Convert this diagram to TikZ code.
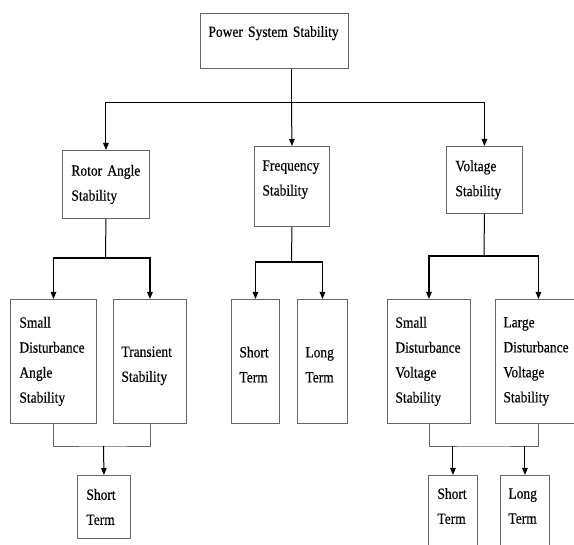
\documentclass[tikz,border=0pt]{standalone}
\usepackage{fontspec}
\setmainfont{Liberation Serif}[FakeStretch=0.87, FakeBold=0.4, WordSpace=0.7]
\usepackage{tikz}
\usetikzlibrary{arrows.meta}
\usepackage{xcolor}
\newcommand{\boxfont}{\fontsize{15.5}{25}\selectfont}
\tikzset{
  stabbox/.style={draw=black!60, line width=0.9pt, anchor=north west, align=left, inner ysep=0pt, font=\boxfont},
  link/.style={line width=1pt, black},
  arrowlink/.style={link, -{Triangle[width=5.5pt,length=7pt]}},
  buslink/.style={arrowlink, line width=1.3pt},
  joinlink/.style={line width=0.9pt, black!60},
}

\begin{document}
\begin{tikzpicture}[x=1pt,y=-1pt]
\useasboundingbox (0,0) rectangle (574,545);
\fill[white] (0,0) rectangle (574,545);
% boxes
\node[stabbox, inner xsep=8pt, text width=132pt, minimum height=55pt, text depth=19pt] (pss) at (200,13) {\mbox{Power System Stability}};
\node[stabbox, inner xsep=9pt, text width=69pt, minimum height=68pt] (rotor) at (62,150) {\mbox{Rotor Angle}\\Stability};
\node[stabbox, inner xsep=8pt, text width=59pt, minimum height=80pt, text depth=42pt] (freq) at (254,146) {Frequency\\Stability};
\node[stabbox, inner xsep=9pt, text width=58pt, minimum height=67pt] (volt) at (446,146) {Voltage\\Stability};
\node[stabbox, inner xsep=9pt, text width=68pt, minimum height=124pt] (sdas) at (10,299) {Small\\Disturbance\\Angle\\Stability};
\node[stabbox, inner xsep=8pt, text width=57pt, minimum height=124pt, text height=19pt] (trans) at (113,299) {Transient\\Stability};
\node[stabbox, inner xsep=8pt, text width=32pt, minimum height=124pt, text height=17pt] (fshort) at (231,299) {Short\\Term};
\node[stabbox, inner xsep=8pt, text width=34pt, minimum height=124pt, text height=17pt] (flong) at (297,299) {Long\\Term};
\node[stabbox, inner xsep=8pt, text width=67pt, minimum height=124pt] (sdvs) at (387,299) {Small\\Disturbance\\Voltage\\Stability};
\node[stabbox, inner xsep=8pt, text width=70pt, minimum height=124pt] (ldvs) at (495,299) {Large\\Disturbance\\Voltage\\Stability};
\node[stabbox, inner xsep=9pt, text width=35pt, minimum height=63pt] (rshort) at (77,475) {Short\\Term};
\node[stabbox, inner xsep=9pt, text width=31pt, minimum height=80pt, text depth=44pt] (vshort) at (428,475) {Short\\Term};
\node[stabbox, inner xsep=8pt, text width=33pt, minimum height=80pt, text depth=44pt] (vlong) at (500,475) {Long\\Term};
% junctions
\coordinate (mainbus) at (291.5,103);
\coordinate (rotorbus) at (105.5,258);
\coordinate (freqbus) at (291.5,262);
\coordinate (voltbus) at (484,256);
\coordinate (rotorjoin) at (103.5,446);
\coordinate (voltjoin) at (483,446);
% first level
\draw[link] (pss.south -| mainbus) -- (mainbus);
\draw[arrowlink] (mainbus) -- (freq.north);
\draw[arrowlink] (mainbus) -| (rotor.north);
\draw[arrowlink] (mainbus) -| (volt.north);
% second level
\draw[link] (rotor.south) -- (rotorbus);
\draw[buslink] (rotorbus) -| (sdas.north);
\draw[buslink] (rotorbus) -| (trans.north);
\draw[link] (freq.south) -- (freqbus);
\draw[buslink] (freqbus) -| (fshort.north);
\draw[buslink] (freqbus) -| (flong.north);
\draw[link] (volt.south) -- (voltbus);
\draw[buslink] (voltbus) -| (sdvs.north);
\draw[buslink] (voltbus) -| (ldvs.north);
% third level
\draw[joinlink] (sdas.south) |- (rotorjoin) -| (trans.south);
\draw[arrowlink] (rotorjoin) -- (rshort.north);
\draw[joinlink] (sdvs.south) |- (voltjoin) -| (ldvs.south);
\draw[arrowlink] (vshort.north |- voltjoin) -- (vshort.north);
\draw[arrowlink] (vlong.north |- voltjoin) -- (vlong.north);
\end{tikzpicture}
\end{document}
